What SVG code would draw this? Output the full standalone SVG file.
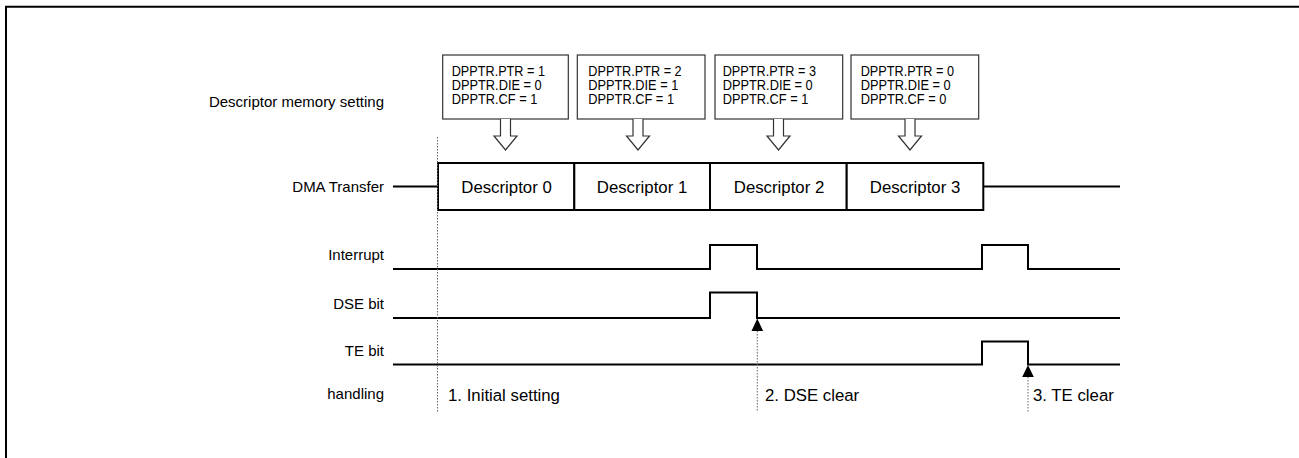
<svg xmlns="http://www.w3.org/2000/svg" width="1299" height="458" viewBox="0 0 1299 458">
<style>
text{font-family:"Liberation Sans",Arial,sans-serif;fill:#000}
.lbl{font-size:15px;text-anchor:end}
.ann{font-size:16.8px}
.dsc{font-size:16.8px;text-anchor:middle}
.reg{font-size:14.5px}
.mem{fill:#fff;stroke:#333;stroke-width:1.2}
.harrow{fill:#fff;stroke:#333;stroke-width:1.2}
.seg{fill:#fff;stroke:#000;stroke-width:2}
.wave{fill:none;stroke:#000;stroke-width:2}
.dot{fill:none;stroke:#666;stroke-width:1;stroke-dasharray:1.5 1.5}
</style>
<path d="M6,470V6.7H1310" fill="none" stroke="#000" stroke-width="2"/>

<g id="labels">
<text class="lbl" x="384" y="107">Descriptor memory setting</text>
<text class="lbl" x="384" y="191.5">DMA Transfer</text>
<text class="lbl" x="384" y="260">Interrupt</text>
<text class="lbl" x="384" y="309">DSE bit</text>
<text class="lbl" x="384" y="356">TE bit</text>
<text class="lbl" x="384" y="399">handling</text>
</g>

<g id="mem0">
<rect class="mem" x="442.7" y="55" width="125.6" height="64"/>
<path class="harrow" d="M500.5,119V136H494L505.5,150L517,136H510.5V119"/>
<text class="reg" x="451.7" y="75.5" textLength="93.3" lengthAdjust="spacingAndGlyphs">DPPTR.PTR = 1</text>
<text class="reg" x="451.7" y="89.7" textLength="90" lengthAdjust="spacingAndGlyphs">DPPTR.DIE = 0</text>
<text class="reg" x="451.7" y="104" textLength="85.7" lengthAdjust="spacingAndGlyphs">DPPTR.CF = 1</text>
</g>
<g id="mem1">
<rect class="mem" x="577.3" y="55" width="127.7" height="64"/>
<path class="harrow" d="M633,119V136H626.5L638,150L649.5,136H643V119"/>
<text class="reg" x="588.3" y="75.5" textLength="93.3" lengthAdjust="spacingAndGlyphs">DPPTR.PTR = 2</text>
<text class="reg" x="588.3" y="89.7" textLength="90" lengthAdjust="spacingAndGlyphs">DPPTR.DIE = 1</text>
<text class="reg" x="588.3" y="104" textLength="85.7" lengthAdjust="spacingAndGlyphs">DPPTR.CF = 1</text>
</g>
<g id="mem2">
<rect class="mem" x="715" y="55" width="127.7" height="64"/>
<path class="harrow" d="M773.5,119V136H767L778.5,150L790,136H783.5V119"/>
<text class="reg" x="722.7" y="75.5" textLength="93.3" lengthAdjust="spacingAndGlyphs">DPPTR.PTR = 3</text>
<text class="reg" x="722.7" y="89.7" textLength="90" lengthAdjust="spacingAndGlyphs">DPPTR.DIE = 0</text>
<text class="reg" x="722.7" y="104" textLength="85.7" lengthAdjust="spacingAndGlyphs">DPPTR.CF = 1</text>
</g>
<g id="mem3">
<rect class="mem" x="851" y="55" width="127.7" height="64"/>
<path class="harrow" d="M905,119V136H898.5L910,150L921.5,136H915V119"/>
<text class="reg" x="860.7" y="75.5" textLength="93.3" lengthAdjust="spacingAndGlyphs">DPPTR.PTR = 0</text>
<text class="reg" x="860.7" y="89.7" textLength="90" lengthAdjust="spacingAndGlyphs">DPPTR.DIE = 0</text>
<text class="reg" x="860.7" y="104" textLength="85.7" lengthAdjust="spacingAndGlyphs">DPPTR.CF = 0</text>
</g>

<g id="dma">
<rect class="seg" x="438" y="163" width="136.3" height="47"/>
<rect class="seg" x="574.3" y="163" width="135.7" height="47"/>
<rect class="seg" x="710" y="163" width="136.7" height="47"/>
<rect class="seg" x="846.7" y="163" width="136.6" height="47"/>
<text class="dsc" x="506.5" y="192.5">Descriptor 0</text>
<text class="dsc" x="642" y="192.5">Descriptor 1</text>
<text class="dsc" x="779" y="192.5">Descriptor 2</text>
<text class="dsc" x="915" y="192.5">Descriptor 3</text>
</g>

<g id="connectors">
<path class="wave" d="M393,186.5H438M983.3,186.5H1120"/>
<path class="wave" d="M393,269H710V245H757V269H982V245H1028V269H1120"/>
<path class="wave" d="M393,318H710V292.5H757V318H1120"/>
<path class="wave" d="M393,364.5H982V341.5H1028V364.5H1120"/>
<path class="dot" d="M437.5,137V412M757.3,331V412M1028,377V412"/>
<polygon points="751.5,331 757.3,318.5 763.1,331" fill="#000"/>
<polygon points="1022.2,377 1028,365 1033.8,377" fill="#000"/>
</g>

<g id="annotations">
<text class="ann" x="448" y="401">1. Initial setting</text>
<text class="ann" x="765" y="401">2. DSE clear</text>
<text class="ann" x="1033" y="401">3. TE clear</text>
</g>
</svg>
